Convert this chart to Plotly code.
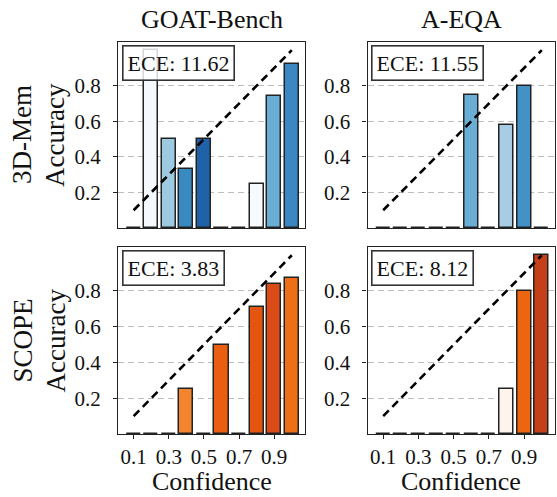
import plotly.graph_objects as go

bins = [0.1, 0.2, 0.3, 0.4, 0.5, 0.6, 0.7, 0.8, 0.9, 1.0]
x_ticks = [0.1, 0.3, 0.5, 0.7, 0.9]
y_ticks = [0.2, 0.4, 0.6, 0.8]

methods = ["3D-Mem", "SCOPE"]
datasets = ["GOAT-Bench", "A-EQA"]

acc_mem_goat = [0, 1.0, 0.5, 0.333, 0.5, 0, 0, 0.25, 0.74, 0.92]
acc_mem_aeqa = [0, 0, 0, 0, 0, 0.75, 0, 0.58, 0.80, 0]
acc_scope_goat = [0, 0, 0, 0.25, 0, 0.5, 0, 0.71, 0.84, 0.875]
acc_scope_aeqa = [0, 0, 0, 0, 0, 0, 0, 0.25, 0.80, 1.0]

col_mem_goat = ["#ffffff", "#f4f9fe", "#9dcae1", "#3a8ac2", "#1f62a9", "#ffffff", "#ffffff", "#f7fbff", "#6aaed6", "#3a87c4"]
col_mem_aeqa = ["#ffffff", "#ffffff", "#ffffff", "#ffffff", "#ffffff", "#6aaed6", "#ffffff", "#a6cde3", "#4292c6", "#ffffff"]
col_scope_goat = ["#ffffff", "#ffffff", "#ffffff", "#f3852f", "#ffffff", "#ea5f0f", "#ffffff", "#e4560f", "#da4b17", "#ef6e18"]
col_scope_aeqa = ["#ffffff", "#ffffff", "#ffffff", "#ffffff", "#ffffff", "#ffffff", "#ffffff", "#fff5eb", "#ee6510", "#c54019"]

ece = [["ECE: 11.62", "ECE: 11.55"], ["ECE: 3.83", "ECE: 8.12"]]
accs = [[acc_mem_goat, acc_mem_aeqa], [acc_scope_goat, acc_scope_aeqa]]
cols = [[col_mem_goat, col_mem_aeqa], [col_scope_goat, col_scope_aeqa]]

W, H = 557, 497
xdom = [[118 / W, 305 / W], [367.5 / W, 555 / W]]
ydom = [[1 - 228 / H, 1 - 42 / H], [1 - 434 / H, 1 - 247 / H]]

FONT = "Liberation Serif, Times New Roman, serif"
TXT = "#111111"
fig = go.Figure()
layout = dict(
    width=W, height=H, margin=dict(l=0, r=0, t=0, b=0),
    paper_bgcolor="white", plot_bgcolor="white", showlegend=False,
    font=dict(family=FONT, color=TXT, size=21), bargap=0,
)
annotations = []
k = 0
for r in range(2):
    for c in range(2):
        k += 1
        xa = "x" if k == 1 else f"x{k}"
        ya = "y" if k == 1 else f"y{k}"
        fig.add_trace(go.Bar(
            x=bins, y=accs[r][c], width=0.08, xaxis=xa, yaxis=ya,
            marker=dict(color=cols[r][c], line=dict(color="#222", width=1.5)),
        ))
        fig.add_trace(go.Scatter(
            x=[bins[0], bins[-1]], y=[bins[0], bins[-1]], mode="lines",
            xaxis=xa, yaxis=ya,
            line=dict(color="black", width=2.6, dash="8px,5px"),
        ))
        xkey = "xaxis" if k == 1 else f"xaxis{k}"
        ykey = "yaxis" if k == 1 else f"yaxis{k}"
        layout[xkey] = dict(
            domain=xdom[c], anchor=ya, range=[0.011, 1.075],
            tickvals=x_ticks, ticktext=[f"{v:.1f}" for v in x_ticks],
            showticklabels=(r == 1), ticks="outside" if r == 1 else "",
            ticklen=4, tickwidth=1.2, tickcolor="#222", ticklabelstandoff=0,
            showline=True, mirror=True, linecolor="#222", linewidth=1.3,
            showgrid=False, zeroline=False, tickfont=dict(size=21),
        )
        layout[ykey] = dict(
            domain=ydom[r], anchor=xa, range=[0, 1.046],
            tickvals=y_ticks, ticktext=[f"{v:.1f}" for v in y_ticks],
            ticks="outside", ticklen=4, tickwidth=1.2, tickcolor="#222", ticklabelstandoff=8,
            showline=True, mirror=True, linecolor="#222", linewidth=1.3,
            showgrid=True, gridcolor="#bdbdbd", griddash="6px,4px", gridwidth=1,
            zeroline=False, tickfont=dict(size=21),
        )
        annotations.append(dict(
            xref=f"{xa} domain", yref=f"{ya} domain", x=0.02, y=0.985,
            xanchor="left", yanchor="top", showarrow=False, text=ece[r][c],
            font=dict(size=22, family=FONT, color=TXT),
            bgcolor="rgba(255,255,255,0.82)", bordercolor="#333", borderwidth=1.6,
            borderpad=4,
        ))

for c in range(2):
    cx = (xdom[c][0] + xdom[c][1]) / 2
    annotations.append(dict(xref="paper", yref="paper", x=cx, y=1 - 19 / H,
                            xanchor="center", yanchor="middle", showarrow=False,
                            text=datasets[c], font=dict(size=26, family=FONT, color=TXT)))
    annotations.append(dict(xref="paper", yref="paper", x=cx, y=0,
                            xanchor="center", yanchor="bottom", showarrow=False, yshift=-1,
                            text="Confidence", font=dict(size=26, family=FONT, color=TXT)))
for r in range(2):
    cy = (ydom[r][0] + ydom[r][1]) / 2
    annotations.append(dict(xref="paper", yref="paper", x=22 / W, y=cy,
                            xanchor="center", yanchor="middle", showarrow=False, textangle=-90,
                            text=methods[r], font=dict(size=27, family=FONT, color=TXT)))
    annotations.append(dict(xref="paper", yref="paper", x=55 / W, y=cy,
                            xanchor="center", yanchor="middle", showarrow=False, textangle=-90,
                            text="Accuracy", font=dict(size=27, family=FONT, color=TXT)))

layout["annotations"] = annotations
fig.update_layout(**layout)
fig.write_html(
    "out.html",
    config={"displayModeBar": False},
    post_script="document.body.style.margin='0';document.body.style.overflow='hidden';",
)
